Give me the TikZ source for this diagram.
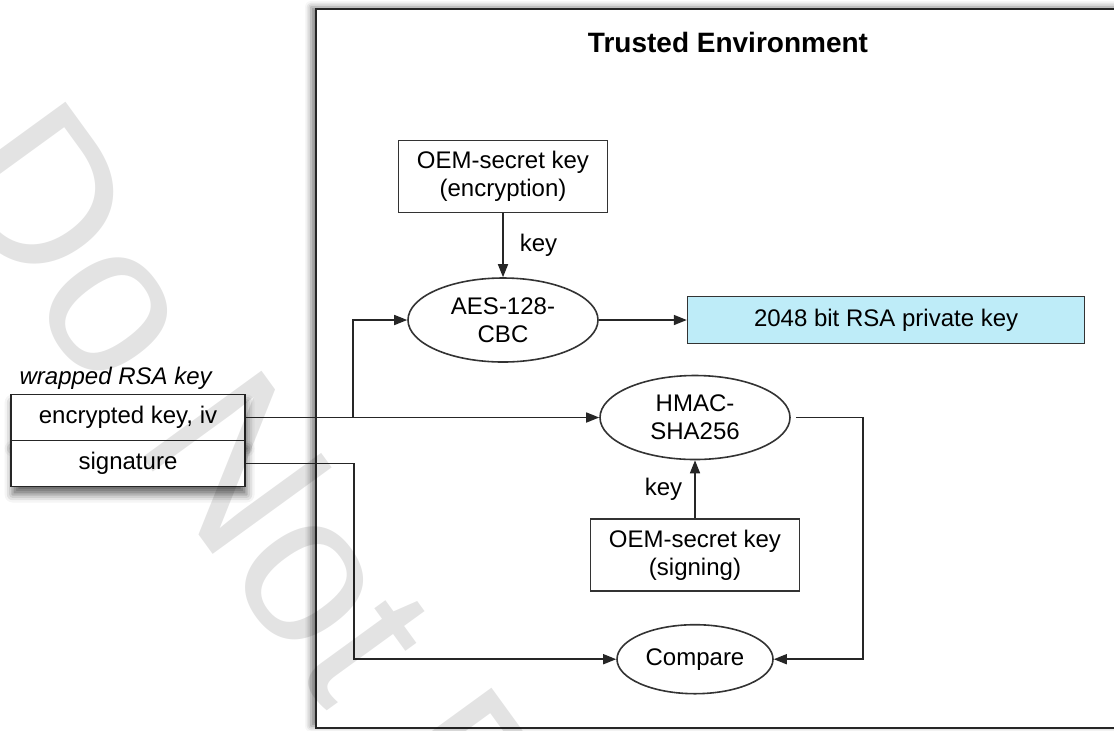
\documentclass[tikz,border=0pt]{standalone}
\usepackage{fontspec}
\setmainfont{Liberation Sans}
\usepackage{tikz}
\usetikzlibrary{shapes.geometric, arrows.meta, positioning, shadows, shadows.blur}
\definecolor{keyblue}{RGB}{190, 236, 248}

\begin{document}
\begin{tikzpicture}[
    x=1pt, y=1pt,
    font=\fontsize{12}{14}\selectfont,
    envframe/.style={draw=black!85, fill=white, line width=1pt, minimum width=412pt, minimum height=359.5pt, blur shadow={shadow xshift=-2.5pt, shadow yshift=1pt, shadow blur radius=3pt, shadow opacity=50}},
    envtitle/.style={font=\fontsize{14}{16}\selectfont\bfseries},
    stamp/.style={text=black, text opacity=0.11, font=\fontsize{107}{107}\selectfont, inner sep=0pt},
    keybox/.style={draw=black!80, fill=white, line width=0.8pt, minimum width=104.5pt, minimum height=36pt, align=center},
    cipher/.style={draw=black!80, fill=white, line width=0.8pt, ellipse, inner sep=0pt, minimum width=95pt, minimum height=42pt, align=center},
    field/.style={draw=black!85, fill=white, line width=0.8pt, minimum width=117pt, minimum height=23pt, blur shadow={shadow xshift=0.8pt, shadow yshift=-4pt, shadow blur radius=4pt, shadow opacity=60}},
    caption/.style={font=\fontsize{12}{14}\selectfont\itshape, inner sep=0pt},
    arrow/.style={-{Triangle[length=6.5pt, width=5pt]}, line width=0.8pt, black!85},
    keylabel/.style={inner sep=1pt, text=black}
]
    \useasboundingbox (0,0) rectangle (557,-365);

    % Trusted environment
    \node[envframe] (trusted) at (364,-184.25) {};
    \node[envtitle, below=8.5pt of trusted.north] (title) {Trusted Environment};

    % Main entities
    \node[cipher] (aes) at (251.5,-160) {AES-128-\\CBC};
    \node[keybox, above=32pt of aes] (enckey) {OEM-secret key\\(encryption)};
    \node[keybox, fill=keyblue, minimum width=198.5pt, minimum height=23.5pt, right=44pt of aes] (rsakey) {2048 bit RSA private key};
    \node[cipher] (hmac) at (347.5,-208.75) {HMAC-\\SHA256};
    \node[keybox, below=29pt of hmac] (signkey) {OEM-secret key\\(signing)};
    \node[cipher, minimum width=78pt, minimum height=34.5pt, below=16pt of signkey] (compare) {Compare};

    % Wrapped key
    \node[field] (encpart) at (64,-208.75) {encrypted key, iv};
    \node[field, below=-0.8pt of encpart] (sigpart) {signature};
    \node[caption, anchor=base west] (wraplabel) at ([xshift=4.5pt, yshift=4.5pt]encpart.north west) {wrapped RSA key};

    % Turning points
    \coordinate (branch) at (176.5,0);
    \coordinate (sigdrop) at (177,0);
    \coordinate (macturn) at (431.5,0);

    % Relationships
    \draw[arrow] (enckey) -- (aes) node[keylabel, midway, right=7pt] {key};
    \draw[arrow] (aes) -- (rsakey);
    \draw[arrow] (encpart) -- (hmac);
    \draw[arrow] (branch |- encpart) |- (aes);
    \draw[arrow] (signkey) -- (hmac) node[keylabel, midway, left=5pt] {key};
    \draw[arrow] (sigpart) -| (sigdrop |- compare) -- (compare);
    \draw[arrow, shorten <=2.5pt] (hmac) -| (macturn |- compare) -- (compare);

    % Watermark
    \node[stamp, rotate=-54, anchor=base west] (mark) at (-31.8,-86.85) {Do Not Distribute};
\end{tikzpicture}
\end{document}
